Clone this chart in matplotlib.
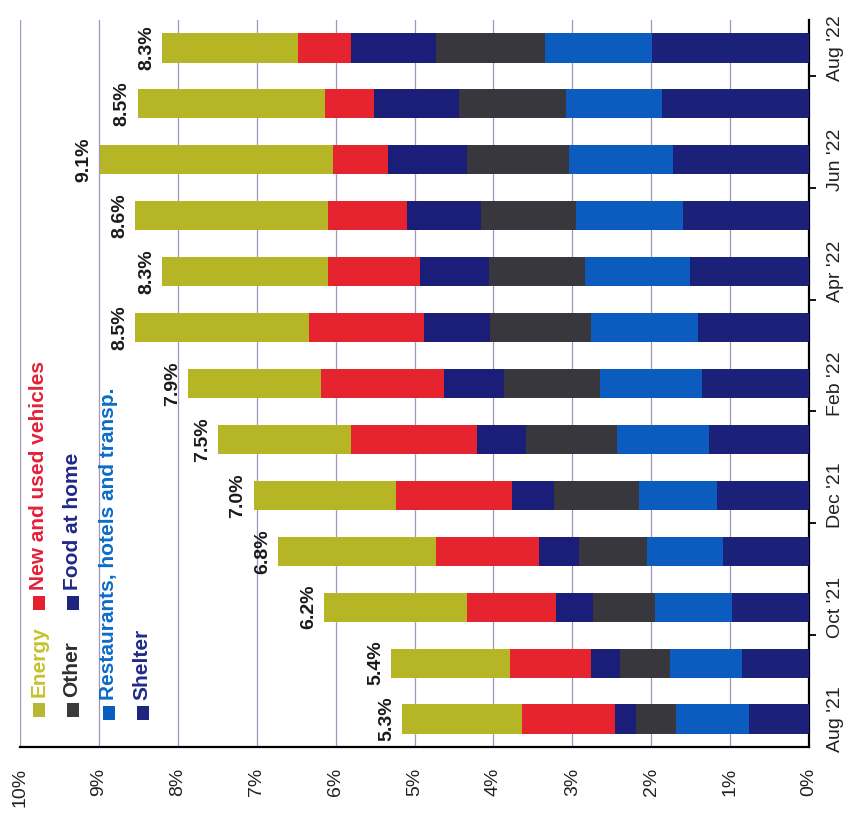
import matplotlib
matplotlib.use("Agg")
import matplotlib.pyplot as plt
from matplotlib.patches import Rectangle
import numpy as np

plt.rcParams['font.family'] = ['Liberation Sans', 'DejaVu Sans']

months = ["Aug '21", "Sep '21", "Oct '21", "Nov '21", "Dec '21", "Jan '22", "Feb '22",
          "Mar '22", "Apr '22", "May '22", "Jun '22", "Jul '22", "Aug '22"]
shelter = [0.76, 0.85, 0.97, 1.09, 1.16, 1.27, 1.35, 1.41, 1.51, 1.60, 1.73, 1.86, 1.99]
restaurants = [0.93, 0.91, 0.98, 0.96, 1.00, 1.16, 1.30, 1.35, 1.33, 1.35, 1.31, 1.22, 1.36]
other = [0.50, 0.64, 0.79, 0.86, 1.07, 1.16, 1.22, 1.28, 1.21, 1.21, 1.29, 1.35, 1.38]
food_at_home = [0.27, 0.36, 0.47, 0.51, 0.53, 0.62, 0.75, 0.84, 0.88, 0.94, 1.01, 1.08, 1.08]
vehicles = [1.18, 1.03, 1.13, 1.31, 1.48, 1.59, 1.57, 1.46, 1.16, 1.00, 0.69, 0.63, 0.67]
energy = [1.52, 1.51, 1.81, 2.00, 1.80, 1.69, 1.68, 2.20, 2.11, 2.44, 2.96, 2.37, 1.72]
total_labels = ["5.3%", "5.4%", "6.2%", "6.8%", "7.0%", "7.5%", "7.9%",
                "8.5%", "8.3%", "8.6%", "9.1%", "8.5%", "8.3%"]
pct_ticks = list(range(0, 11))
pct_labels = [f"{t}%" for t in pct_ticks]

series = [
    ("Shelter", shelter, '#1b2178'),
    ("Restaurants, hotels and transp.", restaurants, '#0c5cc0'),
    ("Other", other, '#38373d'),
    ("Food at home", food_at_home, '#1b1e78'),
    ("New and used vehicles", vehicles, '#e52430'),
    ("Energy", energy, '#b5b525'),
]

W, H = 849, 813
fig = plt.figure(figsize=(W / 100, H / 100), dpi=100)
ax = fig.add_axes([20 / W, 1 - 747 / H, (809 - 20) / W, (747 - 20) / H])

y = np.arange(len(months))
left = np.zeros(len(months))
for name, vals, col in series:
    ax.barh(y, vals, left=left, height=0.52, color=col, edgecolor='none', zorder=3)
    left = left + np.array(vals)

for i, lab in enumerate(total_labels):
    ax.annotate(lab, xy=(left[i], y[i]), xytext=(-5, 0), textcoords='offset points',
                rotation=90, ha='right', va='center', fontsize=14, fontweight='bold',
                color='#1a1a1a', zorder=4)

ax.set_xlim(10, 0)
ax.set_ylim(-0.5, len(months) - 0.5)

ax.set_xticks(pct_ticks)
ax.set_xticklabels(pct_labels, rotation=90, fontsize=14, color='#222222')
ax.tick_params(axis='x', length=0, pad=15)
ax.grid(axis='x', color='#a097bd', lw=0.9, zorder=0)
ax.grid(axis='y', visible=False)

ax.yaxis.tick_right()
ax.set_yticks(y[::2])
ax.set_yticklabels(months[::2], rotation=90, va='center', fontsize=14, color='#222222')
ax.set_yticks(np.arange(1.5, len(months) - 1, 2), minor=True)
ax.tick_params(axis='y', which='major', length=0, pad=13)
ax.tick_params(axis='y', which='minor', length=5, width=1.3, direction='out', color='black')

for s in ['left', 'top']:
    ax.spines[s].set_visible(False)
for s in ['right', 'bottom']:
    ax.spines[s].set_color('black')
    ax.spines[s].set_linewidth(1.6)
ax.set_facecolor('white')

# Legend (drawn manually, rotated like the chart)
def fx(px):
    return px / W

def fy(py):
    return 1 - py / H

legend_items = [
    ("Energy", '#b5b830', '#c6c22a', 33, 703, 39, 697),
    ("New and used vehicles", '#e3202c', '#e4213a', 33, 596, 39, 590),
    ("Other", '#3a3a3a', '#2e2e2e', 67, 703, 72, 697),
    ("Food at home", '#1e2580', '#20288a', 67, 596, 72, 590),
    ("Restaurants, hotels and transp.", '#0a5dc0', '#0b6cc9', 103, 706, 109, 700),
    ("Shelter", '#1e2580', '#1f2a8a', 137, 706, 142, 700),
]
for name, mcol, tcol, mx, my, tx, ty in legend_items:
    fig.patches.append(Rectangle((fx(mx), fy(my + 14)), 12 / W, 14 / H,
                                 transform=fig.transFigure, facecolor=mcol,
                                 edgecolor='none', zorder=5))
    fig.text(fx(tx), fy(ty), name, rotation=90, ha='center', va='bottom',
             fontsize=15, fontweight='bold', color=tcol)

fig.savefig('out.png', dpi=100, facecolor='white')
